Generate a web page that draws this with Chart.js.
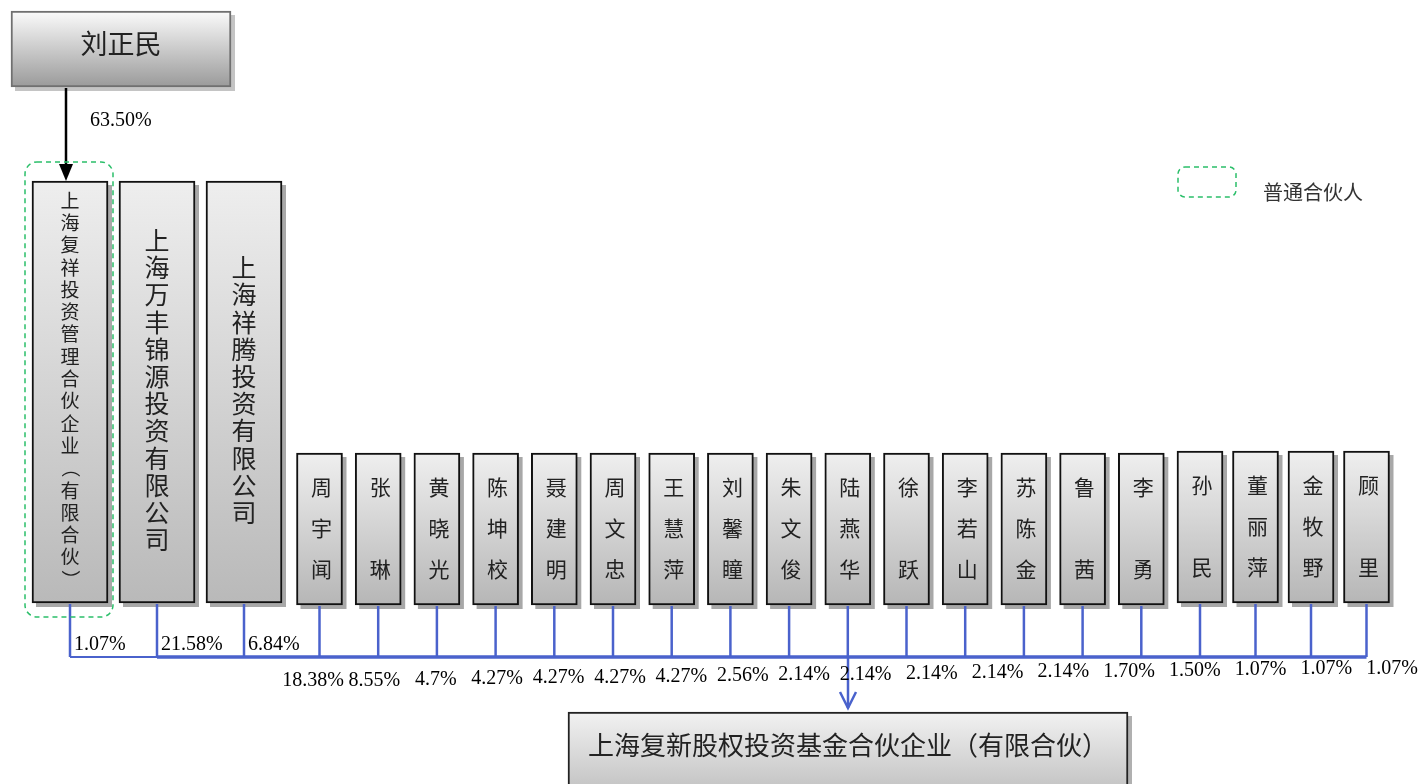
<!DOCTYPE html>
<html>
<head>
<meta charset="utf-8">
<script src="https://cdn.jsdelivr.net/npm/chart.js@4.4.1/dist/chart.umd.min.js"></script>
<style>
  html, body { margin: 0; padding: 0; background: #fff; }
  canvas { display: block; }
</style>
</head>
<body>
<canvas id="chart" width="1419" height="784"></canvas>
<script>
// 股权结构数据
const topHolder = ["刘正民"];
const topHolderPct = ["63.50%"];
const companies = ["上海复祥投资管理合伙企业（有限合伙）", "上海万丰锦源投资有限公司", "上海祥腾投资有限公司"];
const companyPct = ["1.07%", "21.58%", "6.84%"];
const persons = ["周宇闻", "张琳", "黄晓光", "陈坤校", "聂建明", "周文忠", "王慧萍", "刘馨瞳", "朱文俊", "陆燕华",
  "徐跃", "李若山", "苏陈金", "鲁茜", "李勇", "孙民", "董丽萍", "金牧野", "顾里"];
// 图中只标了18个比例
const personPct = ["18.38%", "8.55%", "4.7%", "4.27%", "4.27%", "4.27%", "4.27%", "2.56%", "2.14%",
  "2.14%", "2.14%", "2.14%", "2.14%", "1.70%", "1.50%", "1.07%", "1.07%", "1.07%"];
const fund = ["上海复新股权投资基金合伙企业（有限合伙）"];
const legendLabels = ["普通合伙人"];

// 版面（单位与画布像素一致）
const W = 1419, H = 784;
const busY = 657;
const blue = "#4a62cc";
const green = "#2bbf6a";
const cjk = '"Noto Sans CJK SC", sans-serif';
const serif = '"Liberation Serif", "Noto Sans CJK SC", serif';

// 小框的中心位置：前16个间距58.7，后面略窄
function personX(i) {
  return i <= 15 ? 319.5 + i * 58.7 : 1200 + (i - 15) * 55.5;
}
// 比例标签位置：在箭头两侧间距不同
function pctX(i) {
  return i <= 9 ? 313 + i * 61.4 : 866 + (i - 9) * 65.75;
}

function boxFill(top, bottom) {
  return function (context) {
    const chart = context.chart;
    const raw = context.raw;
    if (!chart.chartArea || !raw) {
      return bottom;
    }
    const y0 = chart.scales.y.getPixelForValue(raw.y[0]);
    const y1 = chart.scales.y.getPixelForValue(raw.y[1]);
    const g = chart.ctx.createLinearGradient(0, y0, 0, y1);
    g.addColorStop(0, top);
    g.addColorStop(1, bottom);
    return g;
  };
}

function drawVertical(ctx, text, cx, cy, pitch) {
  const chars = Array.from(text);
  const startY = cy - ((chars.length - 1) * pitch) / 2;
  chars.forEach((ch, i) => {
    const y = startY + i * pitch;
    if (ch === "（" || ch === "）") {
      ctx.save();
      ctx.translate(cx, y);
      ctx.rotate(Math.PI / 2);
      ctx.fillText(ch, 0, 0);
      ctx.restore();
    } else {
      ctx.fillText(ch, cx, y);
    }
  });
}

function dashedBox(ctx, x0, y0, x1, y1, r) {
  ctx.save();
  ctx.strokeStyle = green;
  ctx.lineWidth = 1.5;
  ctx.setLineDash([5, 4]);
  ctx.beginPath();
  ctx.roundRect(x0, y0, x1 - x0, y1 - y0, r);
  ctx.stroke();
  ctx.restore();
}

function bounds(el) {
  return { left: el.x - el.width / 2, right: el.x + el.width / 2, top: Math.min(el.y, el.base), bottom: Math.max(el.y, el.base) };
}

const shadowPlugin = {
  id: "shadows",
  beforeDatasetsDraw(chart) {
    const ctx = chart.ctx;
    ctx.save();
    chart.data.datasets.forEach((ds, di) => {
      chart.getDatasetMeta(di).data.forEach((el) => {
        const b = bounds(el);
        ctx.fillStyle = ds.shadowColor;
        ctx.fillRect(b.left + 4, b.top + 4, b.right - b.left, b.bottom - b.top);
      });
    });
    ctx.restore();
  },
};

const structurePlugin = {
  id: "structure",
  afterDatasetsDraw(chart) {
    const ctx = chart.ctx;
    const sx = chart.scales.x;
    const sy = chart.scales.y;
    const topEl = chart.getDatasetMeta(0).data[0];
    const compEls = chart.getDatasetMeta(1).data;
    const personEls = chart.getDatasetMeta(2).data;
    const fundEl = chart.getDatasetMeta(3).data[0];
    const yBus = sy.getPixelForValue(busY);

    ctx.save();
    // 刘正民 -> 普通合伙人
    const tb = bounds(topEl);
    const gp = bounds(compEls[0]);
    const ax = sx.getPixelForValue(66);
    ctx.strokeStyle = "#000";
    ctx.fillStyle = "#000";
    ctx.lineWidth = 2.5;
    ctx.beginPath();
    ctx.moveTo(ax, tb.bottom + 1);
    ctx.lineTo(ax, gp.top - 14);
    ctx.stroke();
    ctx.beginPath();
    ctx.moveTo(ax - 7, gp.top - 17);
    ctx.lineTo(ax + 7, gp.top - 17);
    ctx.lineTo(ax, gp.top);
    ctx.closePath();
    ctx.fill();

    // 连接线
    ctx.strokeStyle = blue;
    ctx.lineWidth = 2.5;
    compEls.concat(personEls).forEach((el) => {
      const b = bounds(el);
      ctx.beginPath();
      ctx.moveTo(el.x, b.bottom + 1);
      ctx.lineTo(el.x, yBus);
      ctx.stroke();
    });
    ctx.lineWidth = 2;
    ctx.beginPath();
    ctx.moveTo(compEls[0].x, yBus);
    ctx.lineTo(compEls[1].x, yBus);
    ctx.stroke();
    ctx.lineWidth = 3.5;
    ctx.beginPath();
    ctx.moveTo(compEls[1].x, yBus);
    ctx.lineTo(personEls[personEls.length - 1].x, yBus);
    ctx.stroke();

    // 指向基金的箭头
    const fb = bounds(fundEl);
    ctx.lineWidth = 2.5;
    ctx.beginPath();
    ctx.moveTo(fundEl.x, yBus);
    ctx.lineTo(fundEl.x, fb.top - 4);
    ctx.stroke();
    ctx.beginPath();
    ctx.moveTo(fundEl.x - 8, fb.top - 20);
    ctx.lineTo(fundEl.x, fb.top - 4);
    ctx.lineTo(fundEl.x + 8, fb.top - 20);
    ctx.stroke();

    // 普通合伙人虚线框与图例
    dashedBox(ctx, gp.left - 7, gp.top - 19, gp.right + 5, gp.bottom + 14, 12);
    dashedBox(ctx, sx.getPixelForValue(1178), sy.getPixelForValue(167), sx.getPixelForValue(1236), sy.getPixelForValue(197), 7);
    ctx.fillStyle = "#333";
    ctx.font = "20px " + cjk;
    ctx.textAlign = "left";
    ctx.textBaseline = "middle";
    ctx.fillText(legendLabels[0], sx.getPixelForValue(1263), sy.getPixelForValue(192));

    // 框内文字
    ctx.fillStyle = "#222";
    ctx.textAlign = "center";
    ctx.font = "27px " + cjk;
    ctx.fillText(topHolder[0], topEl.x, tb.top + 33);
    ctx.font = "26px " + cjk;
    ctx.fillText(fund[0], fundEl.x, fb.top + 33);

    const compFont = [19, 25, 25];
    const compPitch = [22.3, 27.2, 27.2];
    compEls.forEach((el, i) => {
      const b = bounds(el);
      ctx.font = compFont[i] + "px " + cjk;
      drawVertical(ctx, companies[i], el.x, (b.top + b.bottom) / 2 - 2, compPitch[i]);
    });

    ctx.font = "21px " + cjk;
    personEls.forEach((el, i) => {
      const b = bounds(el);
      const name = persons[i];
      const pitch = name.length === 2 ? 82 : 41;
      drawVertical(ctx, name, el.x + 2, (b.top + b.bottom) / 2 - 1, pitch);
    });

    // 比例
    ctx.fillStyle = "#000";
    ctx.font = "20px " + serif;
    ctx.textAlign = "left";
    ctx.fillText(topHolderPct[0], sx.getPixelForValue(90), sy.getPixelForValue(121));
    compEls.forEach((el, i) => {
      ctx.fillText(companyPct[i], el.x + 4, yBus - 12);
    });
    ctx.textAlign = "center";
    personPct.forEach((p, i) => {
      ctx.fillText(p, sx.getPixelForValue(pctX(i)), sy.getPixelForValue(681 - i * 0.75));
    });
    ctx.restore();
  },
};

const ctx = document.querySelector("#chart").getContext("2d");

new Chart(ctx, {
  type: "bar",
  data: {
    datasets: [
      {
        data: topHolder.map(() => ({ x: 121, y: [11, 87] })),
        barThickness: 220,
        backgroundColor: boxFill("#fbfbfb", "#9a9a9a"),
        borderColor: "#707070",
        shadowColor: "#c4c4c4",
      },
      {
        data: companies.map((n, i) => ({ x: 70 + i * 87, y: [181, 603] })),
        barThickness: 76,
        backgroundColor: boxFill("#eeeeee", "#b9b9b9"),
        borderColor: "#111",
        shadowColor: "#a8a8a8",
      },
      {
        data: persons.map((n, i) => ({ x: personX(i), y: i >= 15 ? [451, 603] : [453, 605] })),
        barThickness: 46,
        backgroundColor: boxFill("#efefef", "#b6b6b6"),
        borderColor: "#111",
        shadowColor: "#a8a8a8",
      },
      {
        data: fund.map(() => ({ x: 848, y: [712, 800] })),
        barThickness: 560,
        backgroundColor: boxFill("#f2f2f2", "#bdbdbd"),
        borderColor: "#222",
        shadowColor: "#b0b0b0",
      },
    ].map((ds) => Object.assign(ds, { grouped: false, borderWidth: 2, borderSkipped: false })),
  },
  options: {
    responsive: false,
    animation: false,
    layout: { padding: 0 },
    scales: {
      x: { type: "linear", min: 0, max: W, offset: false, display: false },
      y: { type: "linear", min: 0, max: H, reverse: true, display: false },
    },
    plugins: {
      legend: { display: false },
      tooltip: { enabled: false },
    },
  },
  plugins: [shadowPlugin, structurePlugin],
});
</script>
</body>
</html>
